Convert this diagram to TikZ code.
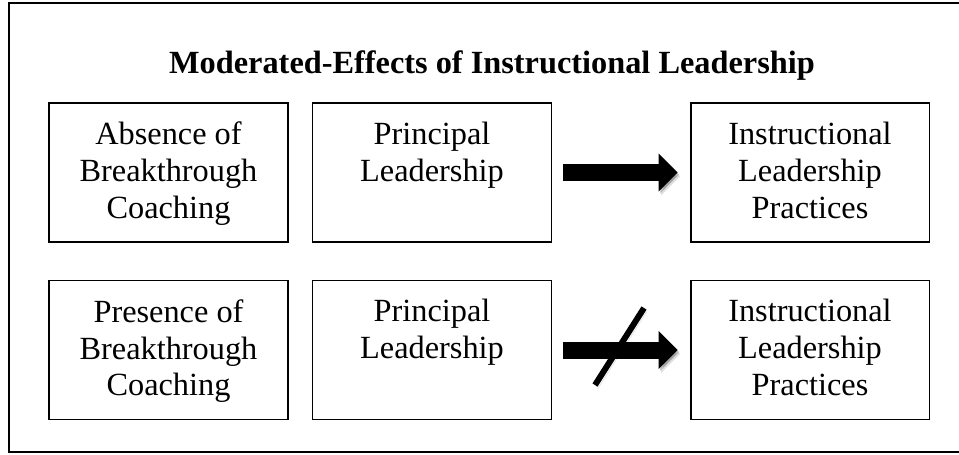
\documentclass[tikz,border=0pt]{standalone}
\usepackage{fontspec}
\setmainfont{Liberation Serif}
\usetikzlibrary{positioning,arrows.meta,calc}

\tikzset{
	box/.style={draw, line width=1.1pt, minimum width=4.78cm, minimum height=2.78cm, inner sep=0pt},
	boxtext/.style={anchor=north, align=center, inner sep=0pt, yshift=-0.39cm,
		font=\fontsize{18.4}{21}\selectfont},
	softshadow/.style={
		preaction={draw=black, opacity=0.12, transform canvas={shift={(0.05cm,-0.08cm)}}},
		preaction={draw=black, opacity=0.18, transform canvas={shift={(0.03cm,-0.04cm)}}}},
	bigarrow/.style={softshadow, line width=0.34cm, shorten <=0.22cm, shorten >=0.24cm,
		-{Triangle[length=0.38cm,width=0.74cm]}},
	slash/.style={softshadow, line width=0.12cm}
}

\begin{document}
\begin{tikzpicture}[x=0.02cm,y=-0.02cm]
		
		\useasboundingbox
		(0,0)
		rectangle
		(959,454);
		
		% outer frame, runs off on the right
		\draw[line width=1.1pt]
		(9,3)
		rectangle
		(966,452);
		
		\node[font=\fontsize{18.4}{22}\selectfont\bfseries, anchor=base] (title) at (492,73)
		{Moderated-Effects of Instructional Leadership};
		
		% first row: without coaching
		\node[box, label={[boxtext]north:Absence of\\Breakthrough\\Coaching}] (coach1) at (168.5,172.5)
		{};
		
		\node[box, label={[boxtext]north:Principal\\Leadership}] (lead1) at (432,172.5)
		{};
		
		\node[box, label={[boxtext]north:Instructional\\Leadership\\Practices}] (prac1) at (810,172.5)
		{};
		
		% second row: with coaching
		\node[box, label={[boxtext]north:Presence of\\Breakthrough\\Coaching}] (coach2) at (168.5,350)
		{};
		
		\node[box, label={[boxtext]north:Principal\\Leadership}] (lead2) at (432,350)
		{};
		
		\node[box, label={[boxtext]north:Instructional\\Leadership\\Practices}] (prac2) at (810,350)
		{};
		
		\draw[bigarrow]
		(lead1)
		--
		(prac1);
		
		\draw[bigarrow]
		(lead2)
		--
		(prac2);
		
		% no effect
		\draw[slash]
		(595,385)
		--
		(644,308);
		
	\end{tikzpicture}
\end{document}
